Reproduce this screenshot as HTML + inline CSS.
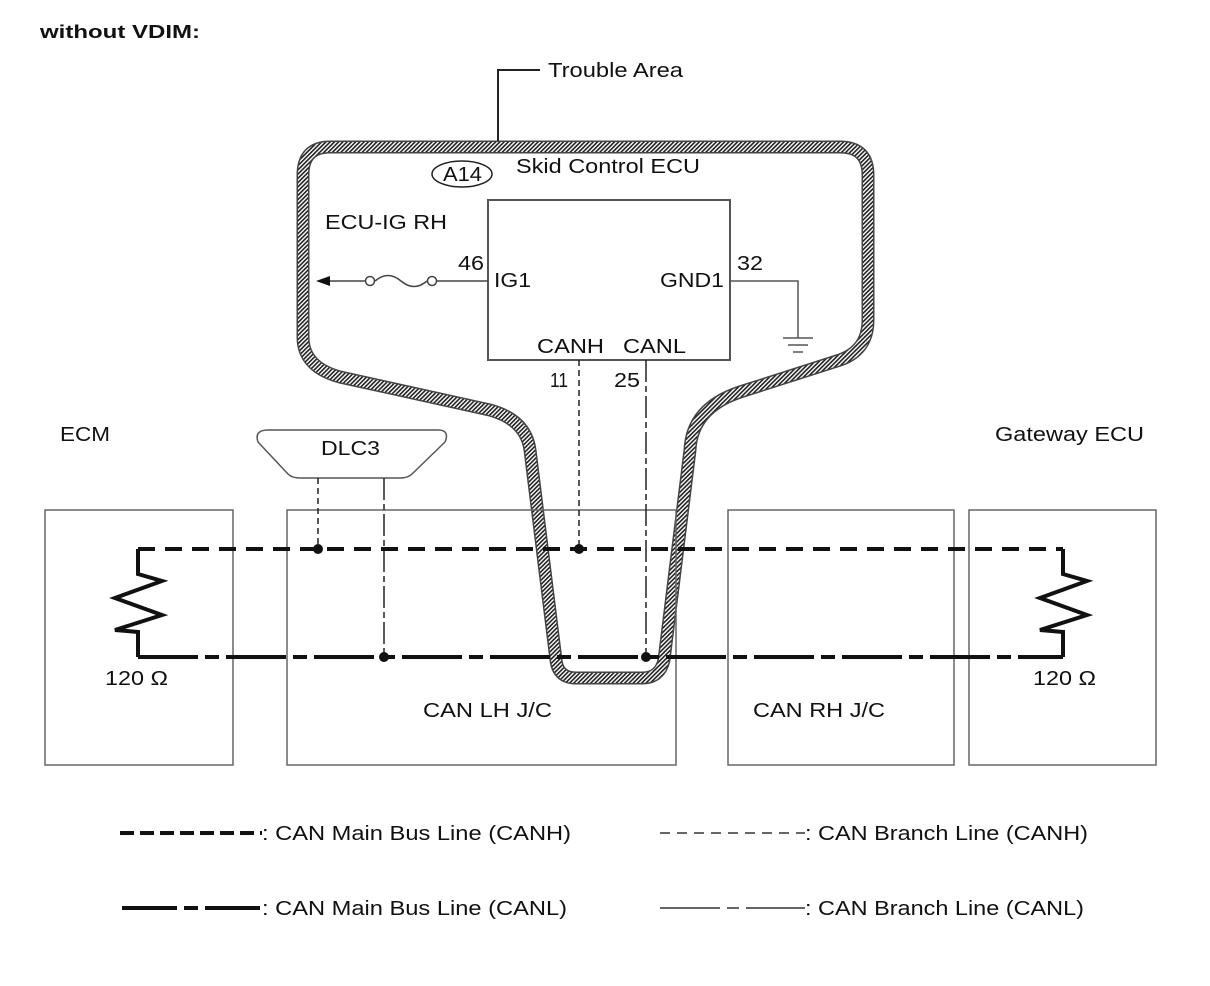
<!DOCTYPE html>
<html><head><meta charset="utf-8"><style>
html,body{margin:0;padding:0;background:#fff;}
svg{display:block;}
text{font-family:"Liberation Sans",Arial,sans-serif;font-size:20px;fill:#111;}
</style></head><body>
<svg width="1210" height="986" viewBox="0 0 1210 986" xmlns="http://www.w3.org/2000/svg">
<defs>
<pattern id="hatch" width="3" height="3" patternUnits="userSpaceOnUse" patternTransform="rotate(45)">
<rect width="3" height="3" fill="#fff"/><rect width="1.6" height="3" fill="#222"/>
</pattern>
</defs>
<text x="40" y="38" style="font-weight:bold;font-size:18px" textLength="160" lengthAdjust="spacingAndGlyphs">without VDIM:</text>

<polyline points="498,142 498,70 540,70" fill="none" stroke="#222" stroke-width="2"/>
<text x="548" y="77" textLength="135" lengthAdjust="spacingAndGlyphs">Trouble Area</text>

<path d="M330,147 L840,147 Q868,147 868,175 L868,320 Q868,350 840,360 L740,392 Q692,408 690,450 L664,660 Q660,678 642,678 L576,678 Q558,678 556,660 L530,450 Q526,420 490,410 L340,377 Q303,367 303,337 L303,175 Q303,147 330,147 Z" fill="none" stroke="#444" stroke-width="13"/>
<path d="M330,147 L840,147 Q868,147 868,175 L868,320 Q868,350 840,360 L740,392 Q692,408 690,450 L664,660 Q660,678 642,678 L576,678 Q558,678 556,660 L530,450 Q526,420 490,410 L340,377 Q303,367 303,337 L303,175 Q303,147 330,147 Z" fill="none" stroke="url(#hatch)" stroke-width="10"/>

<ellipse cx="462" cy="174" rx="30" ry="13" fill="none" stroke="#222" stroke-width="1.5"/>
<text x="443" y="181" textLength="39" lengthAdjust="spacingAndGlyphs">A14</text>
<text x="516" y="173" textLength="184" lengthAdjust="spacingAndGlyphs">Skid Control ECU</text>
<text x="325" y="229" textLength="122" lengthAdjust="spacingAndGlyphs">ECU-IG RH</text>

<rect x="488" y="200" width="242" height="160" fill="none" stroke="#555" stroke-width="2"/>
<text x="458" y="270" textLength="26" lengthAdjust="spacingAndGlyphs">46</text>
<text x="494" y="287" textLength="37" lengthAdjust="spacingAndGlyphs">IG1</text>
<text x="660" y="287" textLength="64" lengthAdjust="spacingAndGlyphs">GND1</text>
<text x="737" y="270" textLength="26" lengthAdjust="spacingAndGlyphs">32</text>
<text x="537" y="353" textLength="67" lengthAdjust="spacingAndGlyphs">CANH</text>
<text x="623" y="353" textLength="63" lengthAdjust="spacingAndGlyphs">CANL</text>
<text x="550" y="387" textLength="18" lengthAdjust="spacingAndGlyphs">11</text>
<text x="614" y="387" textLength="26" lengthAdjust="spacingAndGlyphs">25</text>

<line x1="325" y1="281" x2="366" y2="281" stroke="#444" stroke-width="1.5"/>
<polygon points="316,281 330,276 330,286" fill="#111"/>
<circle cx="370" cy="281" r="4.5" fill="#fff" stroke="#444" stroke-width="1.5"/>
<circle cx="432" cy="281" r="4.5" fill="#fff" stroke="#444" stroke-width="1.5"/>
<path d="M375,281 Q388,270 401,281 Q414,292 427,281" fill="none" stroke="#444" stroke-width="1.5"/>
<line x1="437" y1="281" x2="488" y2="281" stroke="#444" stroke-width="1.5"/>

<polyline points="730,281 798,281 798,338" fill="none" stroke="#555" stroke-width="1.5"/>
<line x1="783" y1="338" x2="813" y2="338" stroke="#555" stroke-width="1.5"/>
<line x1="788" y1="345" x2="808" y2="345" stroke="#555" stroke-width="1.5"/>
<line x1="793" y1="352" x2="803" y2="352" stroke="#555" stroke-width="1.5"/>

<text x="60" y="441" textLength="50" lengthAdjust="spacingAndGlyphs">ECM</text>
<text x="995" y="441" textLength="149" lengthAdjust="spacingAndGlyphs">Gateway ECU</text>

<path d="M268,430 L438,430 Q450,430 445,442 L412,474 Q408,478 400,478 L300,478 Q292,478 288,474 L258,442 Q254,430 268,430 Z" fill="#fff" stroke="#555" stroke-width="1.5"/>
<text x="321" y="455" textLength="59" lengthAdjust="spacingAndGlyphs">DLC3</text>

<rect x="45" y="510" width="188" height="255" fill="none" stroke="#666" stroke-width="1.5"/>
<rect x="287" y="510" width="389" height="255" fill="none" stroke="#666" stroke-width="1.5"/>
<rect x="728" y="510" width="226" height="255" fill="none" stroke="#666" stroke-width="1.5"/>
<rect x="969" y="510" width="187" height="255" fill="none" stroke="#666" stroke-width="1.5"/>
<text x="423" y="717" textLength="129" lengthAdjust="spacingAndGlyphs">CAN LH J/C</text>
<text x="753" y="717" textLength="132" lengthAdjust="spacingAndGlyphs">CAN RH J/C</text>
<text x="105" y="685" textLength="63" lengthAdjust="spacingAndGlyphs">120 Ω</text>
<text x="1033" y="685" textLength="63" lengthAdjust="spacingAndGlyphs">120 Ω</text>

<line x1="318" y1="478" x2="318" y2="549" stroke="#222" stroke-width="1.5" stroke-dasharray="6,4"/>
<line x1="384" y1="478" x2="384" y2="657" stroke="#222" stroke-width="1.5" stroke-dasharray="22,4,6,4"/>
<line x1="579" y1="360" x2="579" y2="549" stroke="#222" stroke-width="1.5" stroke-dasharray="6,4"/>
<line x1="646" y1="360" x2="646" y2="657" stroke="#222" stroke-width="1.5" stroke-dasharray="22,4,6,4"/>

<line x1="138" y1="549" x2="1063" y2="549" stroke="#111" stroke-width="4" stroke-dasharray="17,10"/>
<line x1="138" y1="657" x2="1063" y2="657" stroke="#111" stroke-width="4" stroke-dasharray="60,7,14,7"/>
<polyline points="138,549 138,574 162,581 115,598 162,615 115,630 138,632 138,657" fill="none" stroke="#111" stroke-width="4"/>
<polyline points="1063,549 1063,574 1087,581 1040,598 1087,615 1040,630 1063,632 1063,657" fill="none" stroke="#111" stroke-width="4"/>
<circle cx="318" cy="549" r="5" fill="#111"/>
<circle cx="579" cy="549" r="5" fill="#111"/>
<circle cx="384" cy="657" r="5" fill="#111"/>
<circle cx="646" cy="657" r="5" fill="#111"/>

<line x1="120" y1="833" x2="262" y2="833" stroke="#111" stroke-width="4" stroke-dasharray="14,6"/>
<text x="262" y="840" textLength="309" lengthAdjust="spacingAndGlyphs">: CAN Main Bus Line (CANH)</text>
<line x1="660" y1="833" x2="805" y2="833" stroke="#333" stroke-width="1.5" stroke-dasharray="10,7"/>
<text x="805" y="840" textLength="283" lengthAdjust="spacingAndGlyphs">: CAN Branch Line (CANH)</text>
<line x1="122" y1="908" x2="262" y2="908" stroke="#111" stroke-width="4" stroke-dasharray="55,7,14,7"/>
<text x="262" y="915" textLength="305" lengthAdjust="spacingAndGlyphs">: CAN Main Bus Line (CANL)</text>
<line x1="660" y1="908" x2="805" y2="908" stroke="#333" stroke-width="1.5" stroke-dasharray="60,7,12,7"/>
<text x="805" y="915" textLength="279" lengthAdjust="spacingAndGlyphs">: CAN Branch Line (CANL)</text>
</svg>
</body></html>
